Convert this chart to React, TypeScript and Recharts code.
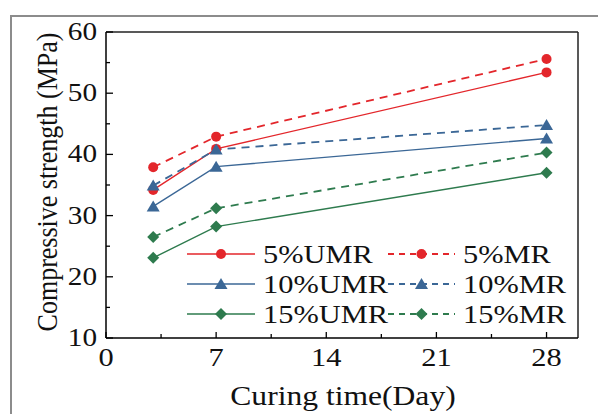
import React from "react";
import { LineChart, Line, XAxis, YAxis, ReferenceLine } from "recharts";

const days = [3, 7, 28];
const umr5 = [34.2, 40.9, 53.4];
const mr5 = [37.9, 42.9, 55.6];
const umr10 = [31.5, 38.0, 42.6];
const mr10 = [34.9, 40.8, 44.8];
const umr15 = [23.1, 28.2, 37.0];
const mr15 = [26.5, 31.2, 40.3];

const xTicks = [0, 3.5, 7, 10.5, 14, 17.5, 21, 24.5, 28];
const yTicks = [10, 15, 20, 25, 30, 35, 40, 45, 50, 55, 60];

const RED = "#e3262b";
const BLUE = "#3b6796";
const GREEN = "#2e7b4e";
const FONT = '"Liberation Serif", "Times New Roman", serif';
const SX = 1.17;

const series = [
  { key: "umr5", name: "5%UMR", color: RED, shape: "circle", dashed: false },
  { key: "mr5", name: "5%MR", color: RED, shape: "circle", dashed: true },
  { key: "umr10", name: "10%UMR", color: BLUE, shape: "triangle", dashed: false },
  { key: "mr10", name: "10%MR", color: BLUE, shape: "triangle", dashed: true },
  { key: "umr15", name: "15%UMR", color: GREEN, shape: "diamond", dashed: false },
  { key: "mr15", name: "15%MR", color: GREEN, shape: "diamond", dashed: true },
];

const data = days.map((d, i) => ({
  day: d,
  umr5: umr5[i],
  mr5: mr5[i],
  umr10: umr10[i],
  mr10: mr10[i],
  umr15: umr15[i],
  mr15: mr15[i],
}));

function Marker({ cx, cy, shape, color }: any) {
  if (cx == null || cy == null) return null;
  if (shape === "circle") return <circle cx={cx} cy={cy} r={5} fill={color} />;
  if (shape === "triangle")
    return <polygon points={`${cx},${cy - 6} ${cx + 6.5},${cy + 5} ${cx - 6.5},${cy + 5}`} fill={color} />;
  return <polygon points={`${cx},${cy - 6} ${cx + 6},${cy} ${cx},${cy + 6} ${cx - 6},${cy}`} fill={color} />;
}

const YTick = (props: any) => {
  const { x, y, payload } = props;
  const v = payload.value;
  const major = v % 10 === 0;
  return (
    <g>
      <line x1={x} x2={x + (major ? 7 : 4)} y1={y} y2={y} stroke="#000" strokeWidth={1.3} />
      {major && (
        <text
          transform={`translate(${x - 9},${y + 8}) scale(${SX},1)`}
          textAnchor="end"
          fontSize={25}
          fontFamily={FONT}
          fill="#111"
        >
          {v}
        </text>
      )}
    </g>
  );
};

const XTick = (props: any) => {
  const { x, y, payload } = props;
  const v = payload.value;
  const major = v % 7 === 0;
  return (
    <g>
      <line x1={x} x2={x} y1={y} y2={y - (major ? 6 : 4)} stroke="#000" strokeWidth={1.3} />
      {major && (
        <text
          transform={`translate(${x},${y + 28}) scale(${SX},1)`}
          textAnchor="middle"
          fontSize={26}
          fontFamily={FONT}
          fill="#111"
        >
          {v}
        </text>
      )}
    </g>
  );
};

export default function App() {
  const rows = [254, 284, 314];
  const cols = [
    { x1: 187, x2: 255, tx: 263 },
    { x1: 388, x2: 455, tx: 463 },
  ];
  return (
    <div style={{ position: "absolute", left: 0, top: 0, width: 598, height: 414, background: "#fff", overflow: "hidden" }}>
      <div
        style={{
          position: "absolute",
          left: 10,
          top: 15,
          width: 640,
          height: 460,
          border: "2px solid #8c8c8c",
        }}
      />
      <LineChart
        width={598}
        height={414}
        data={data}
        margin={{ top: 32, right: 20, left: 0, bottom: 0 }}
        style={{ position: "absolute", left: 0, top: 0 }}
      >
        <XAxis
          dataKey="day"
          type="number"
          domain={[0, 30]}
          ticks={xTicks}
          interval={0}
          height={76}
          tickSize={0}
          tickMargin={0}
          tickLine={false}
          tick={<XTick />}
          axisLine={{ stroke: "#000", strokeWidth: 1.5 }}
        />
        <YAxis
          type="number"
          domain={[10, 60]}
          ticks={yTicks}
          interval={0}
          width={106}
          tickSize={0}
          tickMargin={0}
          tickLine={false}
          tick={<YTick />}
          axisLine={{ stroke: "#000", strokeWidth: 1.5 }}
        />
        <ReferenceLine y={60} stroke="#222" strokeWidth={1.5} />
        <ReferenceLine x={30} stroke="#222" strokeWidth={1.5} />
        {series.map((s) => (
          <Line
            key={s.key}
            dataKey={s.key}
            name={s.name}
            type="linear"
            stroke={s.color}
            strokeWidth={s.dashed ? 1.8 : 1.4}
            strokeDasharray={s.dashed ? "8 6" : undefined}
            dot={(p: any) => <Marker key={`${s.key}-${p.index}`} cx={p.cx} cy={p.cy} shape={s.shape} color={s.color} />}
            activeDot={false}
            isAnimationActive={false}
          />
        ))}
      </LineChart>
      <svg width={598} height={414} style={{ position: "absolute", left: 0, top: 0, pointerEvents: "none" }}>
        <text
          transform={`translate(57,182) rotate(-90) scale(1,${SX})`}
          textAnchor="middle"
          fontSize={26}
          fontFamily={FONT}
          fill="#111"
        >
          Compressive strength (MPa)
        </text>
        <text
          transform={`translate(343,405) scale(${SX},1)`}
          textAnchor="middle"
          fontSize={27}
          fontFamily={FONT}
          fill="#111"
        >
          Curing time(Day)
        </text>
        {series.map((s, i) => {
          const row = rows[Math.floor(i / 2)];
          const c = cols[i % 2];
          const mx = (c.x1 + c.x2) / 2;
          return (
            <g key={s.key}>
              <line
                x1={c.x1}
                x2={c.x2}
                y1={row}
                y2={row}
                stroke={s.color}
                strokeWidth={s.dashed ? 1.8 : 1.4}
                strokeDasharray={s.dashed ? "6 5" : undefined}
              />
              <Marker cx={mx} cy={row} shape={s.shape} color={s.color} />
              <text
                transform={`translate(${c.tx},${row + 9}) scale(${SX},1)`}
                fontSize={26}
                fontFamily={FONT}
                fill="#111"
              >
                {s.name}
              </text>
            </g>
          );
        })}
      </svg>
    </div>
  );
}
